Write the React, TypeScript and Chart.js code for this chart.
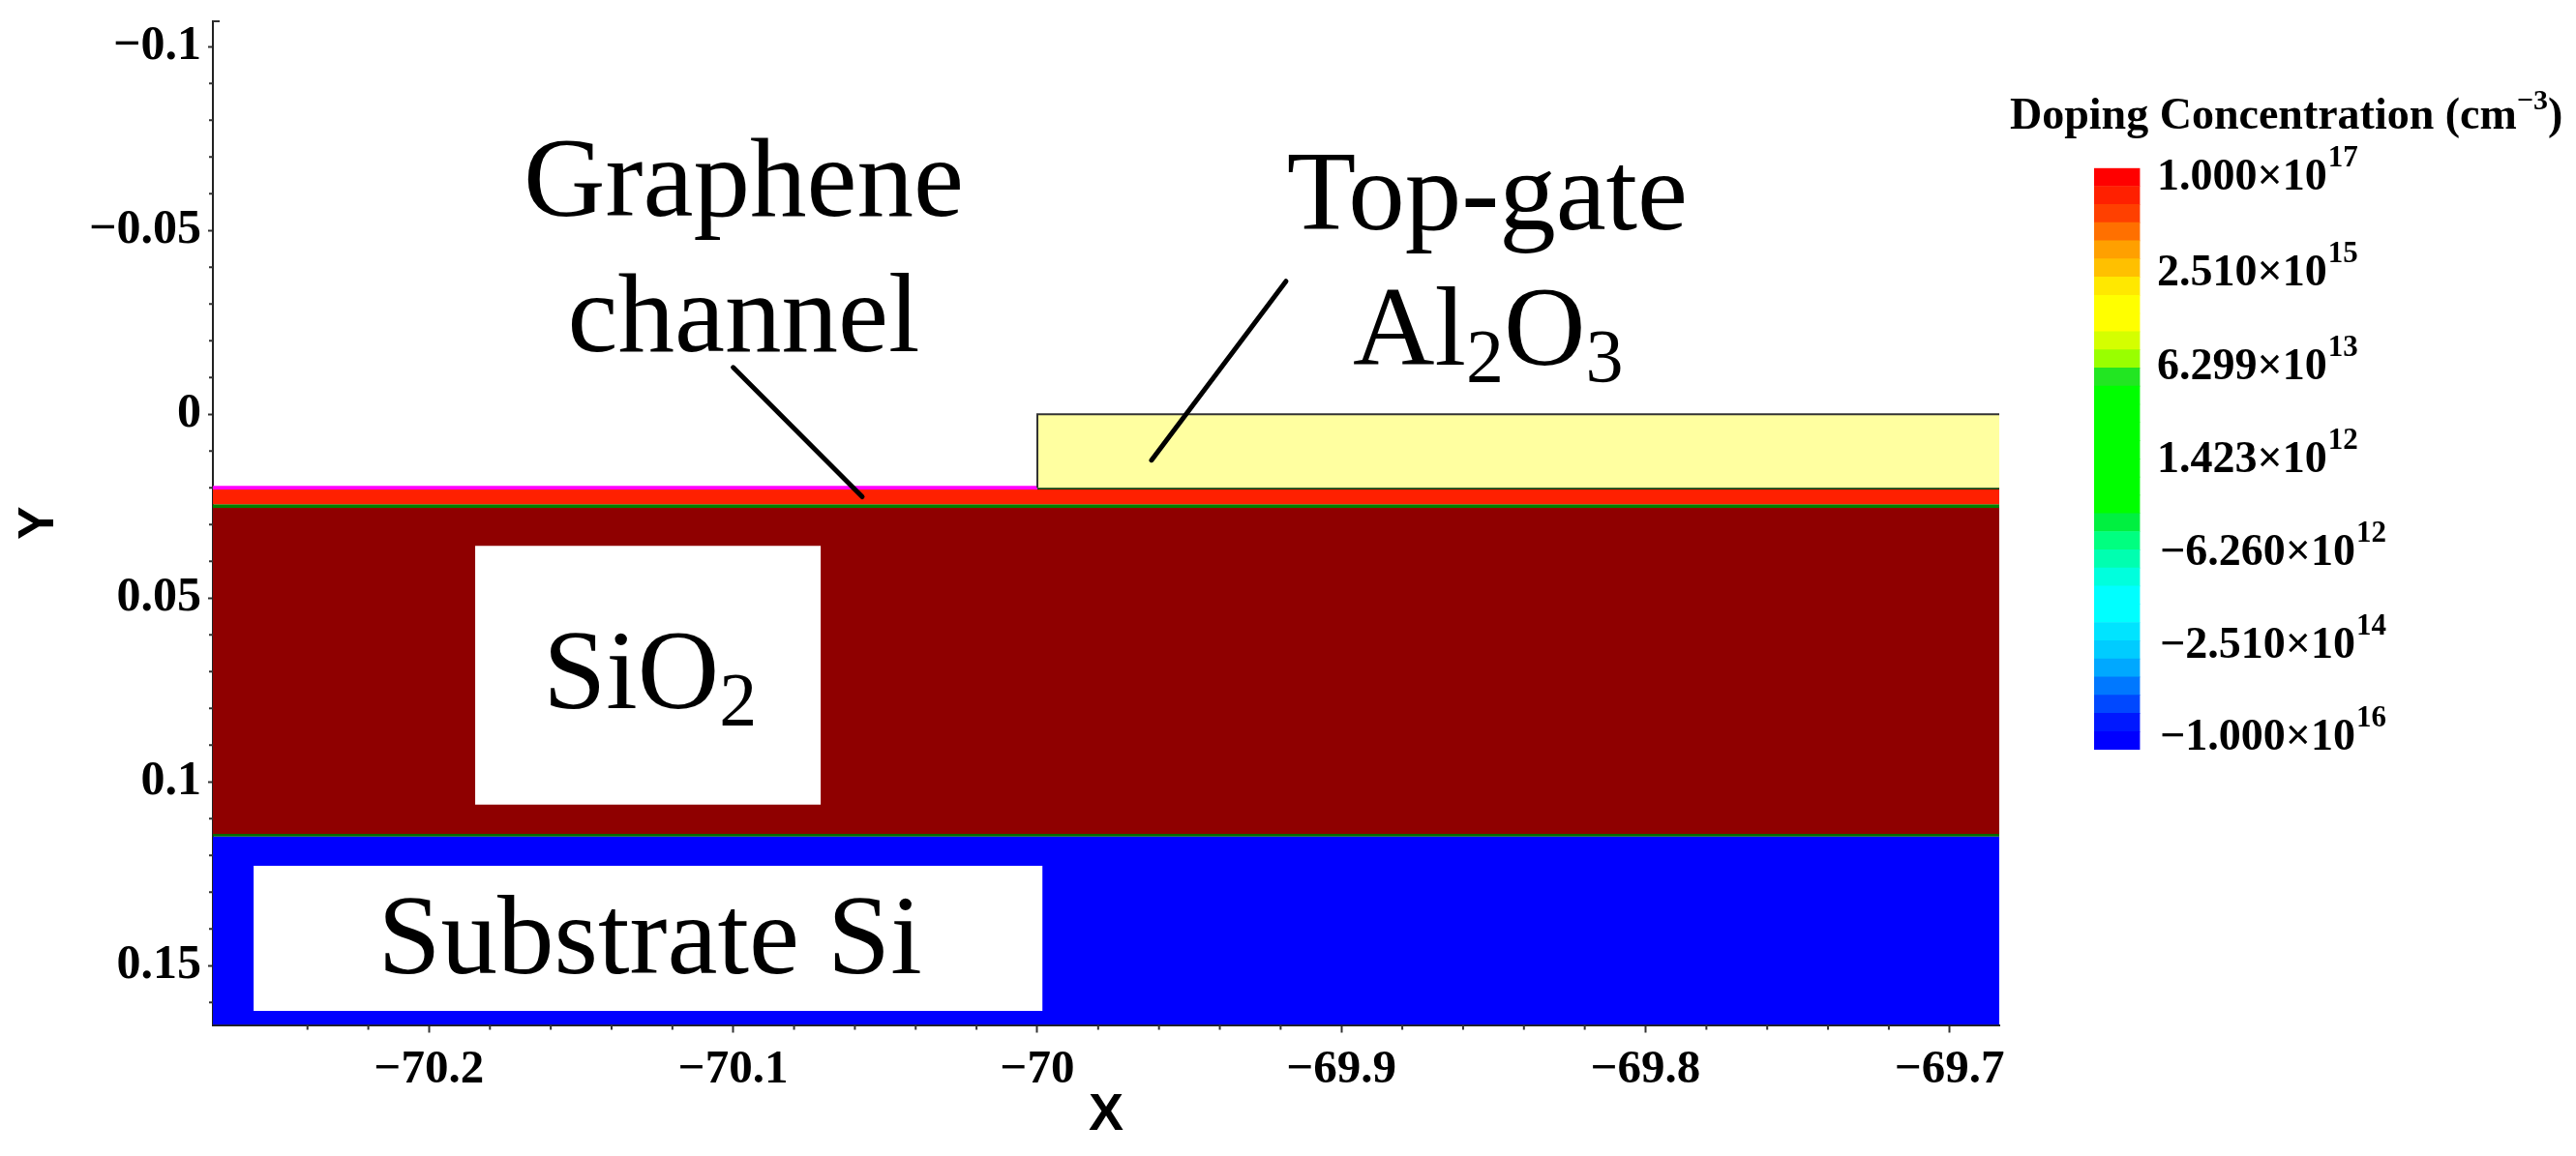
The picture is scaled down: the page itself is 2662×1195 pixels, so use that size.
import React, { useEffect, useRef } from "react";
import { Chart, registerables } from "chart.js";

Chart.register(...registerables);

const X_MIN = -70.2711;
const X_MAX = -69.6837;
const Y_MIN = -0.10689;
const Y_MAX = 0.16613;
const GATE_X = -70;

const X_MAJOR = [-70.2, -70.1, -70, -69.9, -69.8, -69.7];
const X_MINOR = [-70.24, -70.22, -70.18, -70.16, -70.14, -70.12, -70.08, -70.06, -70.04, -70.02, -69.98, -69.96, -69.94, -69.92, -69.88, -69.86, -69.84, -69.82, -69.78, -69.76, -69.74, -69.72];
const Y_MAJOR = [-0.1, -0.05, 0, 0.05, 0.1, 0.15];
const Y_MINOR = [-0.09, -0.08, -0.07, -0.06, -0.04, -0.03, -0.02, -0.01, 0.01, 0.02, 0.03, 0.04, 0.06, 0.07, 0.08, 0.09, 0.11, 0.12, 0.13, 0.14, 0.16];

// layer: [label, x start, x end, y top, y bottom, colour]
const LAYER_NAMES = ["Graphene", "Gate interface", "Channel oxide", "Green upper", "SiO2", "Green lower", "Substrate Si"];
const LAYER_X0 = [X_MIN, GATE_X, X_MIN, X_MIN, X_MIN, X_MIN, X_MIN];
const LAYER_X1 = [GATE_X, X_MAX, X_MAX, X_MAX, X_MAX, X_MAX, X_MAX];
const LAYER_TOP = [0.0195, 0.0198, 0.0205, 0.0245, 0.0255, 0.11413, 0.11487];
const LAYER_BOTTOM = [0.0205, 0.0205, 0.0245, 0.0255, 0.11413, 0.11487, Y_MAX];
const LAYER_COLORS = ["#ff00ff", "#103c10", "#ff2000", "#008000", "#8f0000", "#006800", "#0000ff"];

const GATE_TOP = 0;
const GATE_BOTTOM = 0.02;

const BOX_NAMES = ["SiO2 box", "Substrate box"];
const BOX_X0 = [-70.18486, -70.25772];
const BOX_X1 = [-70.07117, -69.99825];
const BOX_TOP = [0.03582, 0.12284];
const BOX_BOTTOM = [0.10618, 0.16232];

const LEADER_GRAPHENE = [{ x: -70.10003, y: -0.01274 }, { x: -70.05759, y: 0.02247 }];
const LEADER_GATE = [{ x: -69.91823, y: -0.03618 }, { x: -69.96246, y: 0.0125 }];

const NOTE_TEXT = [
  { x: -70.09657, y: -0.05408, align: "center", runs: [["Graphene", 0]] },
  { x: -70.09657, y: -0.0172, align: "center", runs: [["channel", 0]] },
  { x: -69.85205, y: -0.0504, align: "center", runs: [["Top-gate", 0]] },
  { x: -69.89628, y: -0.01347, align: "left", runs: [["Al", 0], ["2", 1], ["O", 0], ["3", 1]] },
  { x: -70.1625, y: 0.0799, align: "left", runs: [["SiO", 0], ["2", 1]] },
  { x: -70.12743, y: 0.15205, align: "center", runs: [["Substrate Si", 0]] },
];

const BAND_COLORS = [
  "#0000ff", "#0018ff", "#0048ff", "#0078ff", "#00a8ff", "#00ccff", "#00e4ff", "#00ffff",
  "#00ffff", "#00ffdd", "#00ffb0", "#00ff80", "#00f040", "#00ff00", "#00ff00", "#00ff00",
  "#00ff00", "#00ff00", "#00ff00", "#00ff00", "#22e622", "#99ff00", "#d4ff00", "#ffff00",
  "#ffff00", "#ffe800", "#ffc000", "#ffa000", "#ff7000", "#ff4000", "#ff2000", "#ff0000",
];
const BAND_SIZES = [1, 1, 1, 1, 1, 1, 1, 1, 1, 1, 1, 1, 1, 1, 1, 1, 1, 1, 1, 1, 1, 1, 1, 1, 1, 1, 1, 1, 1, 1, 1, 1];
const BAR_LABELS = ["1.000×10", "2.510×10", "6.299×10", "1.423×10", "−6.260×10", "−2.510×10", "−1.000×10"];
const BAR_EXPONENTS = ["17", "15", "13", "12", "12", "14", "16"];
const BAR_POSITIONS = [30.8, 25.55, 20.4, 15.3, 10.15, 5.05, 0];

const SERIF = "'Liberation Serif'";

function fillDataset(label: string, pts: { x: number; y: number }[], base: number, color: string) {
  return {
    label,
    data: pts,
    borderWidth: 0,
    pointRadius: 0,
    tension: 0,
    backgroundColor: color,
    borderColor: color,
    fill: { value: base },
  };
}

function lineDataset(label: string, pts: { x: number; y: number }[], color: string, width: number) {
  return {
    label,
    data: pts,
    borderWidth: width,
    borderColor: color,
    borderCapStyle: "round",
    pointRadius: 0,
    tension: 0,
    fill: false,
  };
}

const noPad = (s: any) => {
  s.paddingTop = 0;
  s.paddingBottom = 0;
  s.paddingLeft = 0;
  s.paddingRight = 0;
};

const annotations = {
  id: "annotations",
  afterDraw(chart: any) {
    const { ctx, scales } = chart;
    const { x, y } = scales;
    ctx.save();
    ctx.strokeStyle = "#333";
    ctx.lineWidth = 2;
    ctx.beginPath();
    X_MINOR.forEach((v) => {
      const p = x.getPixelForValue(v);
      ctx.moveTo(p, y.bottom);
      ctx.lineTo(p, y.bottom + 5);
    });
    Y_MINOR.forEach((v) => {
      const p = y.getPixelForValue(v);
      ctx.moveTo(x.left, p);
      ctx.lineTo(x.left - 4, p);
    });
    ctx.moveTo(x.left, y.top);
    ctx.lineTo(x.left + 7, y.top);
    ctx.stroke();

    ctx.fillStyle = "#000";
    ctx.textBaseline = "alphabetic";
    NOTE_TEXT.forEach((note) => {
      const measure = (r: any) => {
        ctx.font = `${r[1] ? 78 : 117}px ${SERIF}`;
        return ctx.measureText(r[0]).width;
      };
      const total = note.runs.reduce((a: number, r: any) => a + measure(r), 0);
      let px = x.getPixelForValue(note.x) - (note.align === "center" ? total / 2 : 0);
      const py = y.getPixelForValue(note.y);
      ctx.textAlign = "left";
      note.runs.forEach((r: any) => {
        const w = measure(r);
        ctx.fillText(r[0], px, r[1] ? py + 17 : py);
        px += w;
      });
    });
    ctx.restore();
  },
};

const barText = {
  id: "barText",
  afterDraw(chart: any) {
    const { ctx, scales } = chart;
    const y = scales.y;
    ctx.save();
    ctx.fillStyle = "#000";
    ctx.textBaseline = "alphabetic";
    ctx.textAlign = "left";
    BAR_LABELS.forEach((label, i) => {
      const base = y.getPixelForValue(BAR_POSITIONS[i]);
      const left = label.startsWith("−") ? 2232 : 2229;
      ctx.font = `bold 46px ${SERIF}`;
      ctx.fillText(label, left, base);
      const w = ctx.measureText(label).width;
      ctx.font = `bold 31px ${SERIF}`;
      ctx.fillText(BAR_EXPONENTS[i], left + w + 1, base - 24);
    });
    ctx.font = `bold 46px ${SERIF}`;
    const title = "Doping Concentration (cm";
    ctx.fillText(title, 2077, 132.7);
    let tx = 2077 + ctx.measureText(title).width;
    ctx.font = `bold 30px ${SERIF}`;
    ctx.fillText("−3", tx, 113);
    tx += ctx.measureText("−3").width;
    ctx.font = `bold 46px ${SERIF}`;
    ctx.fillText(")", tx, 132.7);
    ctx.restore();
  },
};

export default function App() {
  const mainRef = useRef<HTMLCanvasElement>(null);
  const barRef = useRef<HTMLCanvasElement>(null);

  useEffect(() => {
    const boxes = BOX_NAMES.map((n, i) =>
      fillDataset(n, [{ x: BOX_X0[i], y: BOX_TOP[i] }, { x: BOX_X1[i], y: BOX_TOP[i] }], BOX_BOTTOM[i], "#ffffff")
    );
    const layers = LAYER_NAMES.map((n, i) =>
      fillDataset(n, [{ x: LAYER_X0[i], y: LAYER_TOP[i] }, { x: LAYER_X1[i], y: LAYER_TOP[i] }], LAYER_BOTTOM[i], LAYER_COLORS[i])
    );
    const gate = {
      ...fillDataset(
        "Top-gate Al2O3",
        [{ x: GATE_X, y: GATE_BOTTOM }, { x: GATE_X, y: GATE_TOP }, { x: X_MAX, y: GATE_TOP }],
        GATE_BOTTOM,
        "#ffffa0"
      ),
      borderWidth: 2,
      borderColor: "#333333",
    };
    const main = new Chart(mainRef.current as any, {
      type: "line",
      data: {
        datasets: [
          lineDataset("Graphene leader", LEADER_GRAPHENE, "#000", 5),
          lineDataset("Gate leader", LEADER_GATE, "#000", 5),
          ...boxes,
          gate,
          ...layers,
        ] as any,
      },
      options: {
        animation: false,
        responsive: false,
        devicePixelRatio: 1,
        layout: { padding: { top: 22, right: 596, bottom: 0, left: 0 } },
        plugins: { legend: { display: false }, tooltip: { enabled: false }, filler: { propagate: false } },
        scales: {
          x: {
            type: "linear",
            min: X_MIN,
            max: X_MAX,
            z: 1,
            border: { display: true, color: "#222", width: 2 },
            grid: { drawOnChartArea: false, drawTicks: true, tickLength: 8, tickColor: "#333", tickWidth: 2 },
            afterBuildTicks: (s: any) => {
              s.ticks = X_MAJOR.map((value) => ({ value }));
            },
            afterFit: (s: any) => {
              s.height = 135.5;
              noPad(s);
            },
            ticks: {
              autoSkip: false,
              maxRotation: 0,
              minRotation: 0,
              padding: 9,
              color: "#000",
              font: { family: SERIF, size: 49, weight: "bold" },
              callback: (v: any) => `${v}`.replace("-", "−"),
            },
            title: {
              display: true,
              text: "X",
              color: "#000",
              font: { family: "'Liberation Sans'", size: 54, weight: "bold", lineHeight: 1 },
              padding: { top: 0, bottom: 15 },
            },
          },
          y: {
            type: "linear",
            reverse: true,
            min: Y_MIN,
            max: Y_MAX,
            z: 1,
            border: { display: true, color: "#222", width: 2 },
            grid: { drawOnChartArea: false, drawTicks: true, tickLength: 5, tickColor: "#333", tickWidth: 2 },
            afterBuildTicks: (s: any) => {
              s.ticks = Y_MAJOR.map((value) => ({ value }));
            },
            afterFit: (s: any) => {
              s.width = 220;
              noPad(s);
            },
            ticks: {
              autoSkip: false,
              padding: 7,
              color: "#000",
              font: { family: SERIF, size: 50, weight: "bold" },
              callback: (v: any) => `${v}`.replace("-", "−"),
            },
            title: {
              display: true,
              text: "Y",
              color: "#000",
              font: { family: "'Liberation Sans'", size: 52, weight: "bold", lineHeight: 1 },
              padding: { top: 15, bottom: 0 },
            },
          },
        },
      } as any,
      plugins: [annotations],
    });

    const bar = new Chart(barRef.current as any, {
      type: "bar",
      data: {
        labels: ["Doping Concentration"],
        datasets: BAND_COLORS.map((c, i) => ({
          label: `band ${i + 1}`,
          data: [BAND_SIZES[i]],
          backgroundColor: c,
          borderWidth: 0,
          barPercentage: 1,
          categoryPercentage: 1,
          stack: "bar",
        })),
      },
      options: {
        animation: false,
        responsive: false,
        devicePixelRatio: 1,
        layout: { padding: { left: 2164, right: 450.5, top: 173.7, bottom: 420 } },
        plugins: { legend: { display: false }, tooltip: { enabled: false } },
        scales: {
          x: { display: false, stacked: true },
          y: { display: false, stacked: true, min: 0, max: BAND_COLORS.length },
        },
      } as any,
      plugins: [barText],
    });

    return () => {
      main.destroy();
      bar.destroy();
    };
  }, []);

  const style: React.CSSProperties = { position: "absolute", left: 0, top: 0, width: 2662, height: 1195 };
  return (
    <div style={{ position: "absolute", left: 0, top: 0, width: 2662, height: 1195, background: "#fff", overflow: "hidden" }}>
      <canvas ref={mainRef} width={2662} height={1195} style={style} />
      <canvas ref={barRef} width={2662} height={1195} style={{ ...style, pointerEvents: "none" }} />
    </div>
  );
}
